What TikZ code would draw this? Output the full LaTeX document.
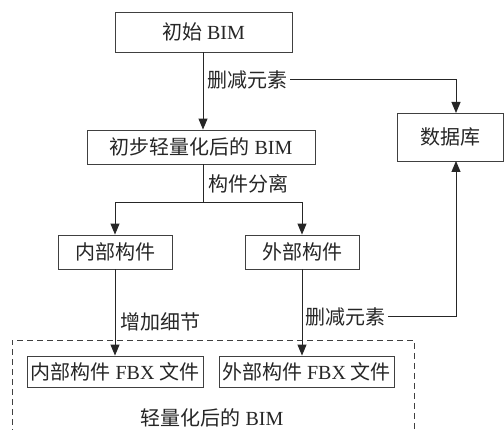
\documentclass[tikz,border=0pt]{standalone}
\usepackage{fontspec}
\setmainfont{Liberation Serif}
\newfontfamily\cjk{Noto Sans CJK SC}
\usetikzlibrary{arrows.meta}
\begin{document}
\begin{tikzpicture}[x=1pt,y=-1pt,
  box/.style={draw=black!75, line width=0.9pt, rectangle, inner sep=0pt,
    font=\fontsize{20}{23}\selectfont, text=black!85},
  lab/.style={inner sep=0pt, anchor=west, font=\fontsize{20}{23}\selectfont\cjk, text=black!85},
  conn/.style={draw=black!85, line width=1pt, -{Triangle[length=11pt,width=9pt]}},
  plain/.style={draw=black!85, line width=1pt}]
\clip (0,0) rectangle (504,430);
\fill[white] (0,0) rectangle (504,430);

% dashed group
\draw[black!75, line width=0.9pt, dash pattern=on 6pt off 4pt] (12,445) |- (414,340) -- (414,445);
\node[inner sep=0pt, font=\fontsize{20}{23}\selectfont, text=black!85] (grp) at (212,418) {{\cjk 轻量化后的} BIM};

% boxes
\node[box, minimum width=177pt, minimum height=40pt] (init) at (203.5,32) {{\cjk 初始} BIM};
\node[box, minimum width=228pt, minimum height=34pt] (pre) at (201,147) {{\cjk 初步轻量化后的} BIM};
\node[box, minimum width=106pt, minimum height=48pt] (db) at (450,137) {\cjk 数据库};
\node[box, minimum width=114pt, minimum height=34pt] (inner) at (115,252) {\cjk 内部构件};
\node[box, minimum width=114pt, minimum height=34pt] (outer) at (302,252) {\cjk 外部构件};
\node[box, minimum width=176pt, minimum height=31pt] (innerF) at (115,371.5) {{\cjk 内部构件} FBX {\cjk 文件}};
\node[box, minimum width=175pt, minimum height=31pt] (outerF) at (306.5,371.5) {{\cjk 外部构件} FBX {\cjk 文件}};

% labels
\node[lab] (l1) at (207,80) {删减元素};
\node[lab] (l2) at (208,184) {构件分离};
\node[lab] (l3) at (120,322) {增加细节};
\node[lab] (l4) at (305,317) {删减元素};

% coordinates
\coordinate (split) at (203,203);
\coordinate (dbtop) at (456,113);
\coordinate (dbbot) at (456,161);

% connectors
\draw[conn] (init.south -| split) -- (pre.north -| split);
\draw[conn] ([xshift=3pt]l1.east) -| (dbtop);
\draw[plain] (pre.south -| split) -- (split);
\draw[conn] (split) -| (inner.north);
\draw[conn] (split) -| (outer.north);
\draw[conn] (inner.south) -- (innerF.north -| inner.south);
\draw[conn] (outer.south) -- (outerF.north -| outer.south);
\draw[conn] ([xshift=3pt]l4.east) -| (dbbot);
\end{tikzpicture}
\end{document}
